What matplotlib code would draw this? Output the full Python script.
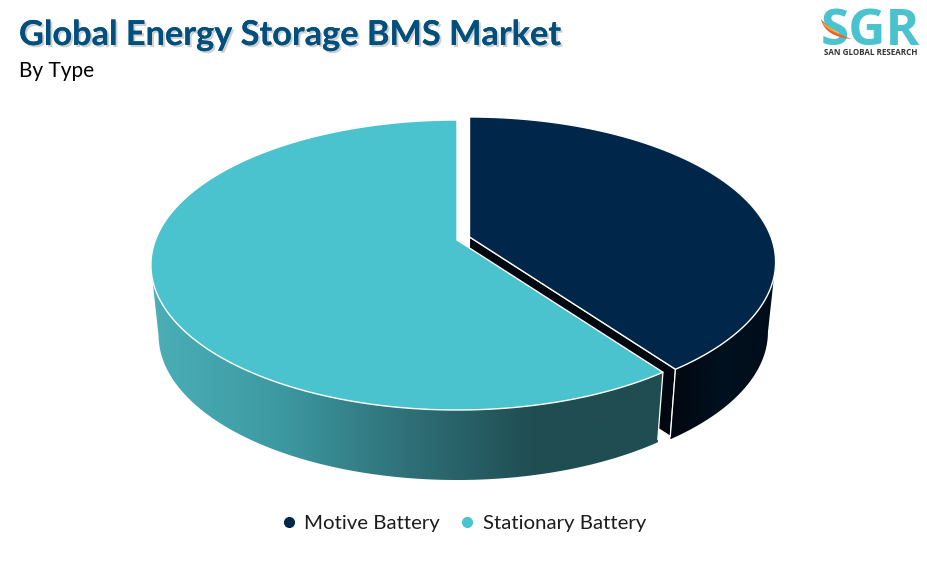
import numpy as np
import matplotlib
matplotlib.use('Agg')
import matplotlib.pyplot as plt
from matplotlib.colors import LinearSegmentedColormap
from matplotlib.lines import Line2D
from matplotlib.patches import Polygon
import matplotlib.patheffects as pe

# Data -------------------------------------------------------------
categories = ['Motive Battery', 'Stationary Battery']
shares = [40, 60]
title = 'Global Energy Storage BMS Market'
subtitle = 'By Type'

# Colors -----------------------------------------------------------
col_motive = '#00264a'
col_stationary = '#4bc3cf'
col_title = '#014f7c'

# Pie geometry in pixels -------------------------------------------
semi_x = 301.5  # horizontal scale of the disc
semi_y = 140.7  # vertical scale of the disc
persp = 0.1724  # perspective factor, back of the disc looks smaller
depth = 70  # wall height
bottom_scale = 0.975  # bottom ring is a bit narrower
centers = [(469.5, 237), (457, 240)]  # motive is pulled out of the pie


def project(theta, center, drop=0, scale=1.0):
    # theta in degrees, clockwise from the top of the disc
    u = np.sin(np.radians(theta))
    v = np.cos(np.radians(theta))
    w = 1 + persp * v
    x = center[0] + scale * semi_x * u / w
    y = center[1] + drop - semi_y * v / w
    return x, y


def xy(theta, center, drop=0, scale=1.0):
    return np.column_stack(project(theta, center, drop, scale))


def bezier(p0, p1, p2):
    t = np.linspace(0, 1, 40)[:, None]
    return (1 - t) ** 2 * np.array(p0) + 2 * t * (1 - t) * np.array(p1) + t ** 2 * np.array(p2)


fig = plt.figure(figsize=(9.28, 5.68), dpi=100)
ax = fig.add_axes([0, 0, 1, 1])
ax.set_xlim(0, 928)
ax.set_ylim(568, 0)
ax.axis('off')

# Slice angles from the values
angles = np.cumsum([0] + shares) / np.sum(shares) * 360
wall_cmaps = [
    LinearSegmentedColormap.from_list('m', ['#01070f', '#01111f', '#010c18']),
    LinearSegmentedColormap.from_list('s', ['#4bafb8', '#3d99a1', '#2f7078', '#1f4d52', '#1f4d52']),
]
top_colors = [col_motive, col_stationary]

for i in range(2):
    center = centers[i]
    theta = np.linspace(angles[i], angles[i + 1], 400)
    front = theta[np.cos(np.radians(theta)) < -persp]

    # cut face of the motive slice, seen through the gap
    if i == 0:
        apex = np.array(center, dtype=float)
        corner = xy(np.array([angles[1]]), center)[0]
        corner_low = xy(np.array([angles[1]]), center, depth - 3, bottom_scale)[0]
        ax.add_patch(Polygon([apex, corner, corner_low, apex + [0, depth]],
                             fc='#01070f', ec='white', lw=0.8, zorder=2))

    # outer wall with a horizontal gradient
    wall = np.vstack([xy(front, center), xy(front[::-1], center, depth, bottom_scale)])
    patch = Polygon(wall, fc='none', ec='none', zorder=3)
    ax.add_patch(patch)
    x0, x1 = wall[:, 0].min(), wall[:, 0].max()
    y0, y1 = wall[:, 1].min(), wall[:, 1].max()
    grad = ax.imshow(np.linspace(0, 1, 256).reshape(1, -1), cmap=wall_cmaps[i], aspect='auto',
                     extent=[x0, x1, y1, y0], zorder=3)
    grad.set_clip_path(patch)

    # white line on the front corner of the wall
    c0 = xy(np.array([angles[1]]), center)[0]
    c1 = xy(np.array([angles[1]]), center, depth - 3, bottom_scale)[0]
    ax.plot([c0[0], c1[0]], [c0[1], c1[1]], color='white', lw=0.9, zorder=4)

    # top face
    outline = np.vstack([[center], xy(theta, center)])
    ax.add_patch(Polygon(outline, fc=top_colors[i], ec='white', lw=1.0, zorder=5, joinstyle='miter'))

ax.set_xlim(0, 928)
ax.set_ylim(568, 0)

# Titles -----------------------------------------------------------
ax.text(19, 35, title, fontsize=24.7, fontweight='bold', family='Lato', color=col_title, va='center',
        path_effects=[pe.withSimplePatchShadow(offset=(1.5, -1.5), shadow_rgbFace='#777777', alpha=0.35),
                      pe.Normal()])
ax.text(19, 71, subtitle, fontsize=15, family='Lato', color='black', va='center')

# Legend -----------------------------------------------------------
handles = [Line2D([], [], ls='', marker='o', ms=7, color=c) for c in top_colors]
ax.legend(handles, categories, ncol=2, loc='center', bbox_to_anchor=(457, 523), bbox_transform=ax.transData,
          frameon=False, prop={'family': 'Lato', 'size': 14.7}, handletextpad=-0.25, columnspacing=0.35,
          labelcolor='#1c1c1c')

# Logo -------------------------------------------------------------
ax.text(870, 32, 'SGR', fontsize=37, fontweight='bold', family='Open Sans', color='#4bc3cf', ha='center', va='center')
ax.text(870.5, 52.5, 'SAN GLOBAL RESEARCH', fontsize=5.8, fontweight='bold', family='Open Sans', color='#333333',
        ha='center', va='center')
swoosh_a = np.vstack([bezier((821, 19), (825, 37), (852, 39)), bezier((852, 39), (833, 33), (821, 19))])
swoosh_b = np.vstack([bezier((822, 22), (826, 30), (842, 35)), bezier((842, 35), (832, 29), (822, 22))])
ax.fill(swoosh_a[:, 0], swoosh_a[:, 1], color='#e8622a', zorder=6, lw=0)
ax.fill(swoosh_b[:, 0], swoosh_b[:, 1], color='#f6a53a', zorder=7, lw=0)

fig.savefig('out.png', dpi=100)
